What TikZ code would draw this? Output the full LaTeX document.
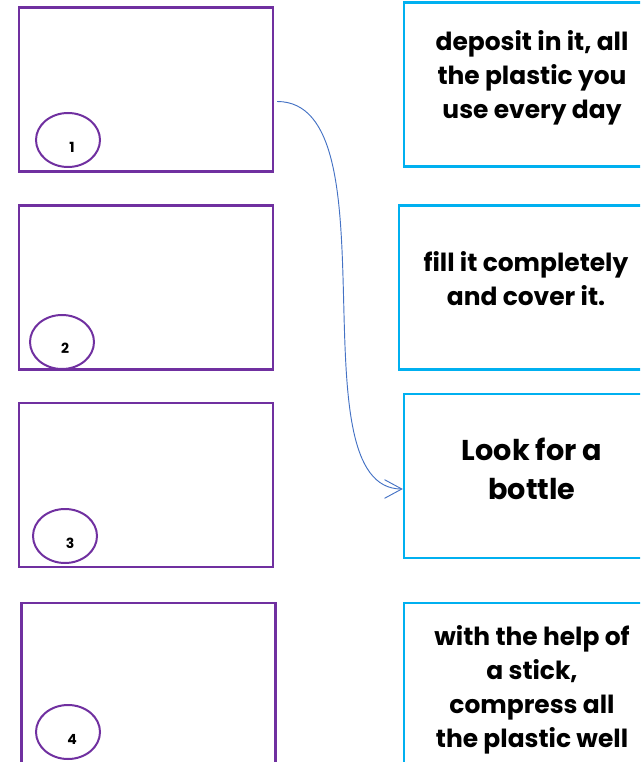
\documentclass[tikz,border=0pt]{standalone}
\usepackage{fontspec}
\usetikzlibrary{positioning,arrows.meta,calc,shapes.geometric}
\newfontfamily\cardfont{Poppins}
\definecolor{wsviolet}{HTML}{7030A0}
\definecolor{wscyan}{HTML}{00B0F0}
\definecolor{wsarrow}{HTML}{4472C4}
\newcommand{\pxu}{0.75pt}
\tikzset{
  slot/.style    ={draw=wsviolet, line width=1.6pt, minimum width=254*\pxu,
                   minimum height=164*\pxu, inner sep=0pt},
  card/.style    ={draw=wscyan, line width=1.8pt, minimum width=256*\pxu,
                   minimum height=164*\pxu, inner sep=0pt},
  tagring/.style ={ellipse, draw=wsviolet, line width=1.5pt, minimum width=64*\pxu,
                   minimum height=54*\pxu, inner sep=0pt},
  tagnum/.style  ={font=\cardfont\bfseries\fontsize{10.5}{10.5}\selectfont, inner sep=0pt},
  cardtext/.style={font=\cardfont\bfseries\fontsize{18.7}{25.5}\selectfont,
                   align=center, inner sep=0pt},
  bigtext/.style ={cardtext, font=\cardfont\bfseries\fontsize{21.5}{29}\selectfont},
  link/.style    ={draw=wsarrow, line width=0.7pt,
                   -{Straight Barb[length=13pt,width=14pt]}},
}

\begin{document}
\begin{tikzpicture}[x=0.75pt,y=-0.75pt]
  \clip (0,0) rectangle (640,762);
  % picture slots
  \node[slot] (b1) at (146,89.5){};
  \node[slot] (b2) at (146,287.5){};
  \node[slot] (b3) at (146,485){};
  \node[slot] (b4) at (148.5,685){};
  \node[tagring] (r1) at (68,140){};  \node[tagnum] (n1) at (72,147){1};
  \node[tagring] (r2) at (62,342){};  \node[tagnum] (n2) at (65,348){2};
  \node[tagring] (r3) at (65,536){};  \node[tagnum] (n3) at (70,543){3};
  \node[tagring] (r4) at (68,732){};  \node[tagnum] (n4) at (72,739){4};
  % step cards
  \node[card] (cA) at (532,84.5){};
  \node[card] (cB) at (527,287.5){};
  \node[card] (cC) at (532,476){};
  \node[card] (cD) at (532,685){};
  \node[cardtext] (tA) at (532,78){deposit in it, all\\the plastic you\\use every day};
  \node[cardtext] (tB) at (526,279){fill it completely\\and cover it.};
  \node[bigtext]  (tC) at (532,469){Look for a\\bottle};
  \node[cardtext] (tD) at (532,690){with the help of\\a stick,\\compress all\\the plastic well};
  \draw[link] ([shift={(3,12)}]b1.east) .. controls +(120,0) and +(-110,0) .. ([shift={(0,13)}]cC.west);
\end{tikzpicture}
\end{document}
